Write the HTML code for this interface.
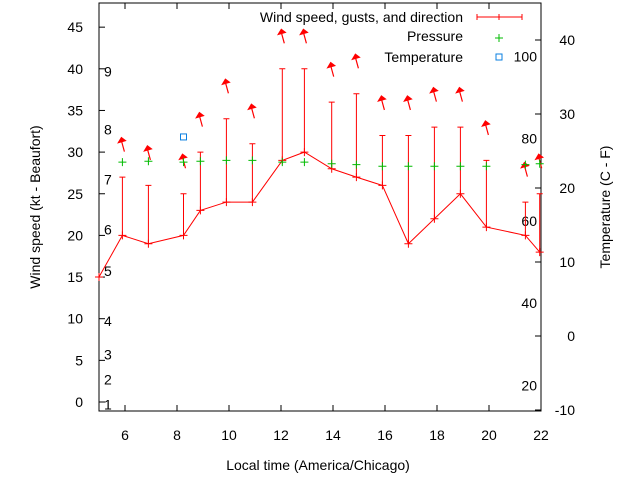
<!DOCTYPE html>
<html><head><meta charset="utf-8"><style>
body{margin:0;background:#fff}
svg{display:block;font-family:"Liberation Sans",sans-serif;font-size:14px}
</style></head><body>
<svg id="chart" width="640" height="480" viewBox="0 0 640 480" xmlns="http://www.w3.org/2000/svg">
<g id="axes"></g>
<g id="marks"></g>
<text x="318" y="470" text-anchor="middle">Local time (America/Chicago)</text>
<text transform="translate(40,207) rotate(-90)" text-anchor="middle">Wind speed (kt - Beaufort)</text>
<text transform="translate(610,207) rotate(-90)" text-anchor="middle">Temperature (C - F)</text>
<g>
<text x="463" y="22" text-anchor="end">Wind speed, gusts, and direction</text>
<path d="M477 17H522M477 14v6M499 14v6M522 14v6" stroke="#f00" fill="none"/>
<text x="463" y="41" text-anchor="end">Pressure</text>
<path d="M499 34v8M495 38h8" stroke="#0b0"/>
<text x="463" y="62" text-anchor="end">Temperature</text>
<rect x="496" y="54" width="6" height="6" fill="none" stroke="#0a7fe0"/>
</g>
</svg>
<script>
const times=[5,5.9,6.9,8.25,8.9,9.9,10.9,12.05,12.9,13.95,14.9,15.9,16.9,17.9,18.9,19.9,21.4,21.95];
const speeds=[15,20,19,20,23,24,24,29,30,28,27,26,19,22,25,21,20,18];
const gusts=[null,27,26,25,30,34,31,40,40,36,37,32,32,33,33,29,24,25];
const arrowLevels=[null,31.5,30.5,29.5,34.5,38.5,35.5,44.5,44.5,40.5,41.5,36.5,36.5,37.5,37.5,33.5,28.5,29.5];
const pressure=[null,28.8,28.9,28.8,28.9,29.0,29.0,28.8,28.8,28.6,28.5,28.3,28.3,28.3,28.3,28.3,28.5,28.6];
const tempTimes=[8.25];
const tempC=[26.9];
const xTicks=[6,8,10,12,14,16,18,20,22];
const yTicks=[0,5,10,15,20,25,30,35,40,45];
const y2Ticks=[-10,0,10,20,30,40];
const beaufort=[[1,1],[2,4],[3,7],[4,11],[5,17],[6,22],[7,28],[8,34],[9,41]];
const fahr=[20,40,60,80,100];

const L=99,R=541,T=3,B=411;
const X=v=>L+(v-5)*(R-L)/17;
const Y=v=>B-(v+1.08)*(B-T)/48.98;
const Y2=v=>336-v*7.4;
const NS='http://www.w3.org/2000/svg';
function mk(p,tag,a){const e=document.createElementNS(NS,tag);for(const k in a)e.setAttribute(k,a[k]);p.appendChild(e);return e;}
const ax=document.getElementById('axes'),mg=document.getElementById('marks');
let e=mk(ax,'rect',{x:L,y:T,width:R-L,height:B-T,fill:'none',stroke:'#000'});


xTicks.forEach(t=>{
 const x=X(t);
 mk(ax,'path',{d:`M${x} ${B}v-6M${x} ${T}v6`,stroke:'#000'});
 const tx=mk(ax,'text',{x:x,y:440,'text-anchor':'middle'});tx.textContent=t;
 
 
});
yTicks.forEach(t=>{
 const y=Y(t);
 mk(ax,'path',{d:`M${L} ${y}h6`,stroke:'#000'});
 const tx=mk(ax,'text',{x:83,y:y+5,'text-anchor':'end'});tx.textContent=t;
 
 
});
y2Ticks.forEach(t=>{
 const y=Y2(t);
 mk(ax,'path',{d:`M${R} ${y}h-6`,stroke:'#000'});
 const tx=mk(ax,'text',{x:575,y:y+5,'text-anchor':'end'});tx.textContent=t;
 
 
});
beaufort.forEach(([b,kt])=>{
 const tx=mk(ax,'text',{x:104,y:Y(kt-1.3)+5});tx.textContent=b;
 
 
});
fahr.forEach(f=>{
 const tx=mk(ax,'text',{x:537,y:Y2((f-32)/1.8)+5,'text-anchor':'end'});tx.textContent=f;
 
 
});
// wind line
let d='';times.forEach((t,i)=>{d+=(i?'L':'M')+X(t)+' '+Y(speeds[i]);});
e=mk(mg,'path',{d:d,fill:'none',stroke:'#f00'});


times.forEach((t,i)=>{
 const x=X(t),y=Y(speeds[i]);
 e=mk(mg,'path',{d:`M${x-4} ${y}h8M${x} ${y-4}v8`,stroke:'#f00'});
 
 
 if(gusts[i]!=null){
  const g=Y(gusts[i]);
  e=mk(mg,'path',{d:`M${x} ${y}V${g}M${x-3} ${g}h6`,stroke:'#f00',fill:'none'});
  
  
 }
 if(arrowLevels[i]!=null){
  const a=Y(arrowLevels[i]);
  e=mk(mg,'path',{d:`M${x+2} ${a+12}L${x-1} ${a+1}M${x-4} ${a+3}L${x-1} ${a-2}L${x+3} ${a+1}Z`,stroke:'#f00',fill:'#f00','stroke-width':1.2});
  
  
 }
 if(pressure[i]!=null){
  const p=Y(pressure[i]);
  e=mk(mg,'path',{d:`M${x-4} ${p}h8M${x} ${p-4}v8`,stroke:'#0b0'});
  
  
 }
});
tempTimes.forEach((t,i)=>{
 e=mk(mg,'rect',{x:X(t)-3,y:Y2(tempC[i])-3,width:6,height:6,fill:'none',stroke:'#0a7fe0'});
 
 
});
</script>
</body></html>
